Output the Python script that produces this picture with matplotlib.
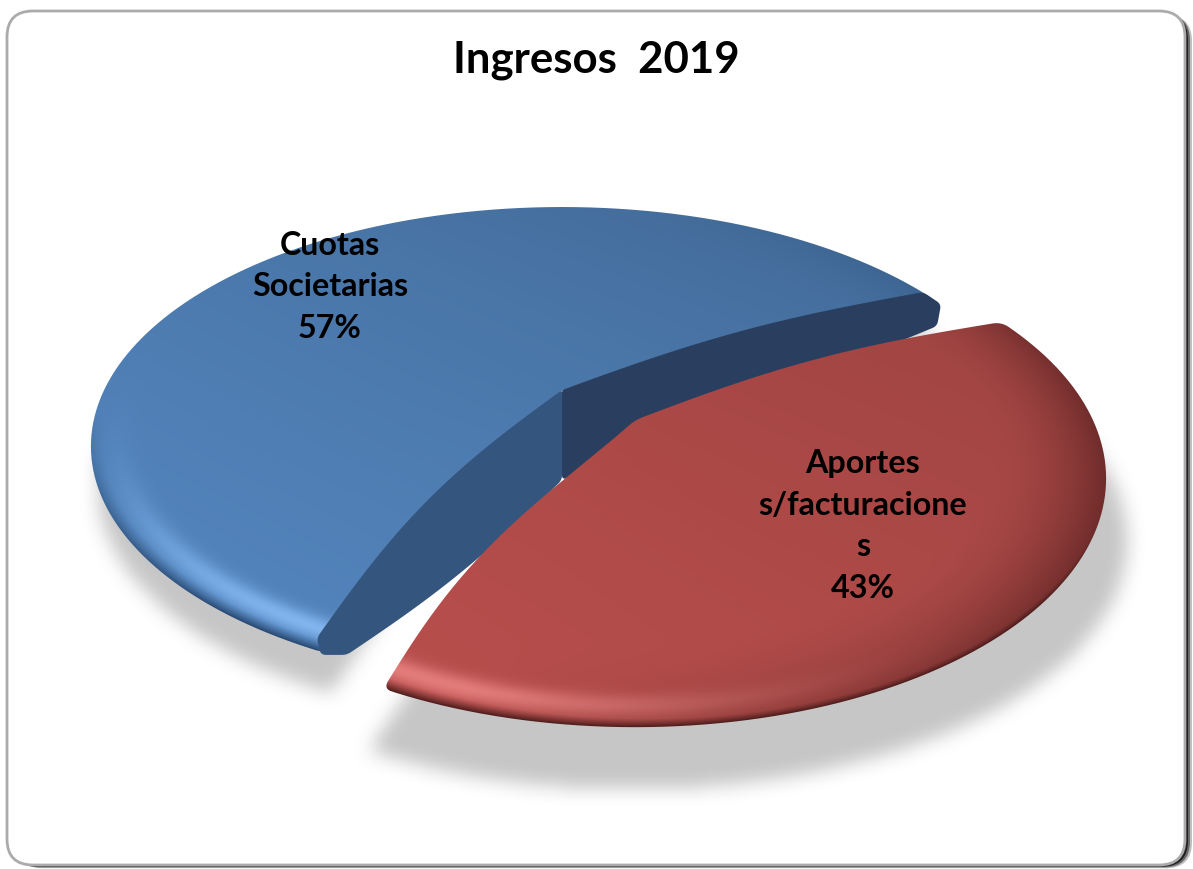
import numpy as np
import matplotlib
matplotlib.use('Agg')
import matplotlib.pyplot as plt
from matplotlib.patches import FancyBboxPatch, PathPatch, Polygon
from matplotlib.path import Path

# Data
title = 'Ingresos  2019'
categories = ['Cuotas\nSocietarias', 'Aportes\ns/facturacione\ns']
shares = [57, 43]

W, H = 1193, 869
fig = plt.figure(figsize=(W / 100, H / 100), dpi=100)
ax = fig.add_axes([0, 0, 1, 1])
ax.set_xlim(0, W)
ax.set_ylim(H, 0)
ax.axis('off')

# Frame
for off, alpha in [(8, 0.25), (6, 0.45), (4, 0.7), (2, 1.0)]:
    ax.add_patch(FancyBboxPatch((8 + off, 12 + off * 0.4), 1176, 853, boxstyle='round,pad=0,rounding_size=26',
                                fc='black', ec='none', alpha=alpha, zorder=1))
ax.add_patch(FancyBboxPatch((7, 11), 1178, 854, boxstyle='round,pad=0,rounding_size=26',
                            fc='white', ec='#ababab', lw=2, zorder=2))

P = 0.235  # perspective
xx, yy = np.meshgrid(np.arange(W) + 0.5, np.arange(H) + 0.5)


def project(u, v, apex, A, B):
    w = 1 + P * v
    return apex[0] + A * u / w, apex[1] - B * v / w


def rim(ang, apex, A, B):
    t = np.radians(ang)
    return project(np.cos(t), np.sin(t), apex, A, B)


def smooth(pts, win=9, step=2.0):
    # resample the outline, then soften the corners
    closed = np.vstack([pts, pts[:1]])
    d = np.r_[0, np.cumsum(np.hypot(*np.diff(closed, axis=0).T))]
    s = np.arange(0, d[-1], step)
    x = np.interp(s, d, closed[:, 0])
    y = np.interp(s, d, closed[:, 1])
    k = np.ones(win) / win
    x = np.convolve(np.r_[x[-win:], x, x[:win]], k, 'same')[win:-win]
    y = np.convolve(np.r_[y[-win:], y, y[:win]], k, 'same')[win:-win]
    return np.column_stack([x, y])


def edge(a, b, bulge, power=1.0, n=40):
    # slightly domed radial edge, positive bulge goes up/right of a->b on screen
    a, b = np.array(a, float), np.array(b, float)
    t = np.linspace(0, 1, n)[:, None]
    d = b - a
    nrm = np.array([d[1], -d[0]]) / np.hypot(*d)
    return a + t * d + bulge * np.sin(np.pi * t ** power) * nrm


def outline(apex, A, B, a0, sweep, b_start, b_end, p_start=1.0, p_end=1.0):
    # arc goes clockwise on screen from a0
    ang = np.linspace(a0, a0 - sweep, 300)
    ax_, ay_ = rim(ang, apex, A, B)
    arc = np.column_stack([ax_, ay_])
    e1 = edge(apex, arc[0], b_start, p_start)
    e2 = edge(apex, arc[-1], b_end, p_end)[::-1]
    return smooth(np.vstack([e1[:-1], arc, e2[:-1]]))


def blur(a, r):
    k = np.ones(2 * r + 1) / (2 * r + 1)
    for _ in range(2):
        a = np.apply_along_axis(lambda m: np.convolve(m, k, 'same'), 0, a)
        a = np.apply_along_axis(lambda m: np.convolve(m, k, 'same'), 1, a)
    return a


def add_shadow(pts, dx, dy, sx, sy, r=3):
    c = pts.mean(axis=0)
    q = (pts - c) * [sx, sy] + c + [dx, dy]
    step = 3
    gx, gy = xx[::step, ::step], yy[::step, ::step]
    inside = Path(q).contains_points(np.column_stack([gx.ravel(), gy.ravel()])).reshape(gx.shape)
    alpha = blur(inside.astype(float), r)
    rgba = np.zeros(gx.shape + (4,))
    rgba[..., :3] = 0.78
    rgba[..., 3] = alpha
    ax.imshow(rgba, extent=(0, W, H, 0), zorder=3, aspect='auto', interpolation='bilinear')


def add_top(pts, apex, A, B, base, edge_dark, hilite, grad, side, z):
    # shade the slice top in disc coordinates: overall slope plus a bevel near the rim
    dx, dy = xx - apex[0], yy - apex[1]
    v = -dy / (B + P * dy)
    u = dx * (1 + P * v) / A
    r = np.hypot(u, v) + 1e-6
    s = np.clip((r - 0.88) / 0.12, 0, 1)
    lit = np.clip((-0.4 * u - 0.92 * v) / r, 0, 1)
    low = np.clip((0.1 * u - 1.0 * v) / r, 0, 1)
    dark = np.clip((0.95 * u - 0.3 * v) / r, 0, 1)
    tone = 1 - grad * (0.4 * u + 0.45 * v)
    img = np.ones(xx.shape + (3,)) * np.array(matplotlib.colors.to_rgb(base))
    img *= tone[..., None]
    h = np.exp(-((s - 0.55) / 0.25) ** 2) * lit ** 5
    img = img + (np.array(matplotlib.colors.to_rgb(hilite)) - img) * h[..., None]
    e = np.clip((s - 0.75) / 0.25, 0, 1) ** 1.5 * np.clip(low * 1.3, 0, 1)
    e = np.maximum(e, np.clip((r - 0.76) / 0.24, 0, 1) ** 2 * dark * side)
    img = img + (np.array(matplotlib.colors.to_rgb(edge_dark)) - img) * e[..., None]
    im = ax.imshow(np.clip(img, 0, 1), extent=(0, W, H, 0), zorder=z, aspect='auto')
    im.set_clip_path(PathPatch(Path(pts), transform=ax.transData))


# Slices
blue_apex, blue_A, blue_B = (562, 390), 458, 226
red_apex, red_A, red_B = (635, 420), 458, 235
blue_start = 246
blue_sweep = 360 * shares[0] / 100 * 1.072
red_end = blue_start - blue_sweep + 1.5
red_sweep = 360 * shares[1] / 100 * 0.925
red_start = red_end - red_sweep

blue_top = outline(blue_apex, blue_A, blue_B, blue_start, blue_sweep, -18, 10)
red_top = outline(red_apex, red_A, red_B, red_end, red_sweep, 12, -20, 1.0, 1.2)

add_shadow(blue_top, 6, 40, 1.0, 1.0)
add_shadow(red_top, 4, 62, 1.05, 1.0)

add_top(blue_top, blue_apex, blue_A, blue_B, '#4b78ab', '#26466e', '#82b4ee', 0.16, 0.3, 4)

# Cut faces of the blue slice
depth = 90
ex, ey = rim(blue_start - blue_sweep, blue_apex, blue_A, blue_B)
back = np.vstack([edge(blue_apex, (ex - 12, ey - 8), 10),
                  [(ex + 6, ey + 4), (ex + 2, ey + 26)],
                  [(blue_apex[0], blue_apex[1] + depth)]])
ax.add_patch(Polygon(smooth(back, 5), closed=True, fc='#2a3f5f', ec='none', zorder=5))
sx, sy = rim(blue_start, blue_apex, blue_A, blue_B)
front = np.vstack([edge(blue_apex, (sx - 8, sy - 15), -18),
                   [(sx - 4, sy + 2)],
                   edge((sx + 22, sy + 2), (blue_apex[0], blue_apex[1] + depth), -8)])
ax.add_patch(Polygon(smooth(front, 5), closed=True, fc='#34567e', ec='none', zorder=5))

add_top(red_top, red_apex, red_A, red_B, '#ab4947', '#4a1b1a', '#e27c7a', 0.12, 0.6, 6)

# Texts
ax.text(596, 60, title, ha='center', va='center', fontsize=31.5, fontweight='bold',
        family='Lato', color='black', zorder=8)
ax.text(330, 287, f'{categories[0]}\n{shares[0]}%', ha='center', va='center', fontsize=23.2,
        fontweight='bold', family='Lato', linespacing=1.53, color='black', zorder=8)
ax.text(863, 526, f'{categories[1]}\n{shares[1]}%', ha='center', va='center', fontsize=23.2,
        fontweight='bold', family='Lato', linespacing=1.53, color='black', zorder=8)

ax.set_xlim(0, W)
ax.set_ylim(H, 0)
plt.savefig('out.png', dpi=100)
